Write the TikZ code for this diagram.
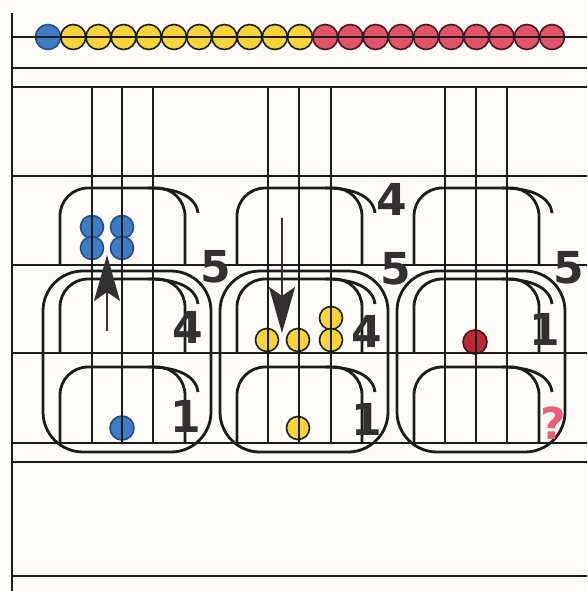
\documentclass[tikz,border=0pt]{standalone}
\usepackage{fontspec}
\newfontfamily\numfont{DejaVu Sans}
\usepackage{tikz}
\usetikzlibrary{arrows.meta}
\definecolor{paper}{RGB}{252,251,247}
\definecolor{inkline}{RGB}{28,28,28}
\definecolor{arrowgray}{RGB}{50,48,48}
\definecolor{beadblue}{RGB}{62,124,196}
\definecolor{beadblueedge}{RGB}{40,78,128}
\definecolor{beadyellow}{RGB}{246,212,58}
\definecolor{beadred}{RGB}{226,82,104}
\definecolor{beaddarkred}{RGB}{188,40,58}
\definecolor{askpink}{RGB}{240,92,122}
\tikzset{
  bead/.style={circle, draw=inkline, line width=1.6pt, inner sep=0pt, minimum size=25pt},
  bluebead/.style={bead, fill=beadblue, draw=beadblueedge},
  yellowbead/.style={bead, fill=beadyellow},
  redbead/.style={bead, fill=beadred, draw=black!70!beadred},
  darkredbead/.style={bead, fill=beaddarkred, draw=black!60!beaddarkred},
  numlabel/.style={font=\numfont\bfseries\fontsize{44}{44}\selectfont, text=arrowgray, inner sep=0pt},
  frameline/.style={line width=2.8pt, color=inkline},
  gridline/.style={line width=1.8pt, color=inkline},
  rodline/.style={line width=2pt, color=inkline},
  loopline/.style={line width=2.8pt, color=inkline},
  movearrow/.style={-{Stealth[length=46pt, width=26pt, inset=9pt]}, line width=2.8pt, color=arrowgray}
}

\begin{document}
\begin{tikzpicture}[x=1pt, y=-1pt]
  \useasboundingbox (0,0) rectangle (587,591);
  \fill[paper] (0,0) rectangle (587,591);

  \node[bluebead] (bead0) at (48,37) {};
  \foreach \i in {1,...,10} \node[yellowbead] (bead\i) at ({48+25.2*\i},37) {};
  \foreach \i in {11,...,20} \node[redbead] (bead\i) at ({48+25.2*\i},37) {};
  \coordinate (wireL) at (12,37);
  \coordinate (wireR) at (587,37);
  \draw[gridline] (wireL) -- (wireR);

  \node[bluebead, minimum size=23pt] (blueA) at (92,227) {};
  \node[bluebead, minimum size=23pt] (blueB) at (122,227) {};
  \node[bluebead, minimum size=23pt] (blueC) at (92,248) {};
  \node[bluebead, minimum size=23pt] (blueD) at (122,248) {};
  \node[bluebead, minimum size=24pt] (blueone) at (122,428) {};
  \node[yellowbead, minimum size=23pt] (yellowtop) at (331,318) {};
  \node[yellowbead, minimum size=23pt] (yellowA) at (267,340) {};
  \node[yellowbead, minimum size=23pt] (yellowB) at (298,340) {};
  \node[yellowbead, minimum size=23pt] (yellowC) at (331,340) {};
  \node[yellowbead, minimum size=23pt] (yellowone) at (298,428) {};
  \node[darkredbead, minimum size=24pt] (redone) at (475,342) {};

  \draw[frameline] (12,13) -- (12,591);
  \foreach \y in {68,87,443,576} \draw[frameline] (12,\y) -- (587,\y);
  \foreach \y in {176,265,353,462} \draw[gridline] (12,\y) -- (587,\y);
  \foreach \x in {92,122,153,268,299,331,445,476,507} \draw[rodline] (\x,87) -- (\x,443);

  \foreach \dx in {0,177,354} {
    \begin{scope}[xshift=\dx]
      \draw[loopline, rounded corners=40] (43,271) rectangle (211,452);
      \draw[loopline, rounded corners=28] (60,265) -- (60,188) -- (185,188) -- (185,265);
      \draw[loopline] (148,188) .. controls (178,188) and (196,197) .. (198,213);
      \draw[loopline, rounded corners=28] (60,353) -- (60,279) -- (185,279) -- (185,353);
      \draw[loopline] (148,279) .. controls (178,279) and (196,288) .. (198,304);
      \draw[loopline, rounded corners=28] (60,443) -- (60,367) -- (185,367) -- (185,443);
      \draw[loopline] (148,367) .. controls (178,367) and (196,376) .. (198,392);
    \end{scope}
  }

  \node[numlabel] (fiveA) at (216,267) {5};
  \node[numlabel] (fourA) at (188,327) {4};
  \node[numlabel] (oneA) at (186,416) {1};
  \node[numlabel] (fourtop) at (392,199) {4};
  \node[numlabel] (fiveB) at (396,269) {5};
  \node[numlabel] (fourB) at (367,331) {4};
  \node[numlabel] (oneB) at (367,419) {1};
  \node[numlabel] (fiveC) at (569,268) {5};
  \node[numlabel] (oneC) at (545,329) {1};
  \node[numlabel, text=askpink] (askC) at (553,423) {?};

  \coordinate (upstart) at (107,331);
  \coordinate (upend) at (107,255);
  \coordinate (downstart) at (282,218);
  \coordinate (downend) at (282,333);
  \draw[movearrow] (upstart) -- (upend);
  \draw[movearrow] (downstart) -- (downend);
\end{tikzpicture}
\end{document}
